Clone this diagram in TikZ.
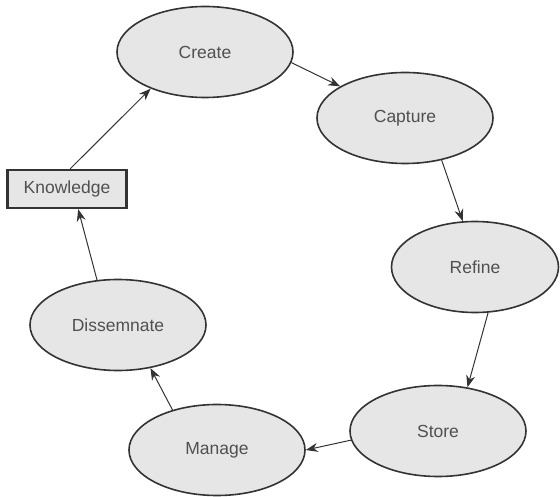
\documentclass[tikz,border=0pt]{standalone}
\usepackage{fontspec}
\setmainfont{Liberation Sans}
\usetikzlibrary{shapes.geometric,arrows.meta}
\definecolor{stagefill}{HTML}{E6E6E6}
\definecolor{stageline}{HTML}{333333}
\definecolor{stagetext}{HTML}{505050}
\begin{document}
\begin{tikzpicture}[x=1pt,y=-1pt,
    stage/.style={ellipse,draw=stageline,fill=stagefill,line width=1.6pt,
      minimum width=176pt,minimum height=91pt,inner sep=0pt,
      text=stagetext,font=\fontsize{17.5}{20}\selectfont},
    goal/.style={rectangle,draw=stageline,fill=stagefill,line width=2.4pt,
      minimum width=119pt,minimum height=38pt,inner sep=0pt,
      text=stagetext,font=\fontsize{17.5}{20}\selectfont},
    flow/.style={draw=stageline,line width=1pt,-{Stealth[length=12pt,width=9pt]}}]
  \useasboundingbox (0,0) rectangle (560,497);
  \node[stage] (create) at (205,52) {Create};
  \node[stage] (capture) at (405,118) {Capture};
  \node[stage,minimum width=167pt] (refine) at (475,267) {Refine};
  \node[stage] (store) at (438,431) {Store};
  \node[stage] (manage) at (217,450) {Manage};
  \node[stage] (dissemnate) at (118,325) {Dissemnate};
  \node[goal] (knowledge) at (67,189) {Knowledge};
  \draw[flow] (create.-7) -- (capture.154);
  \draw[flow] (capture.-49) -- (refine.105);
  \draw[flow] (refine.-74) -- (store.56);
  \draw[flow] (store.186) -- (manage.east);
  \draw[flow] (manage.138) -- (dissemnate.-53);
  \draw[flow] (dissemnate.115) -- (knowledge.-61);
  \draw[flow] (knowledge.81) -- (create.214);
\end{tikzpicture}
\end{document}
